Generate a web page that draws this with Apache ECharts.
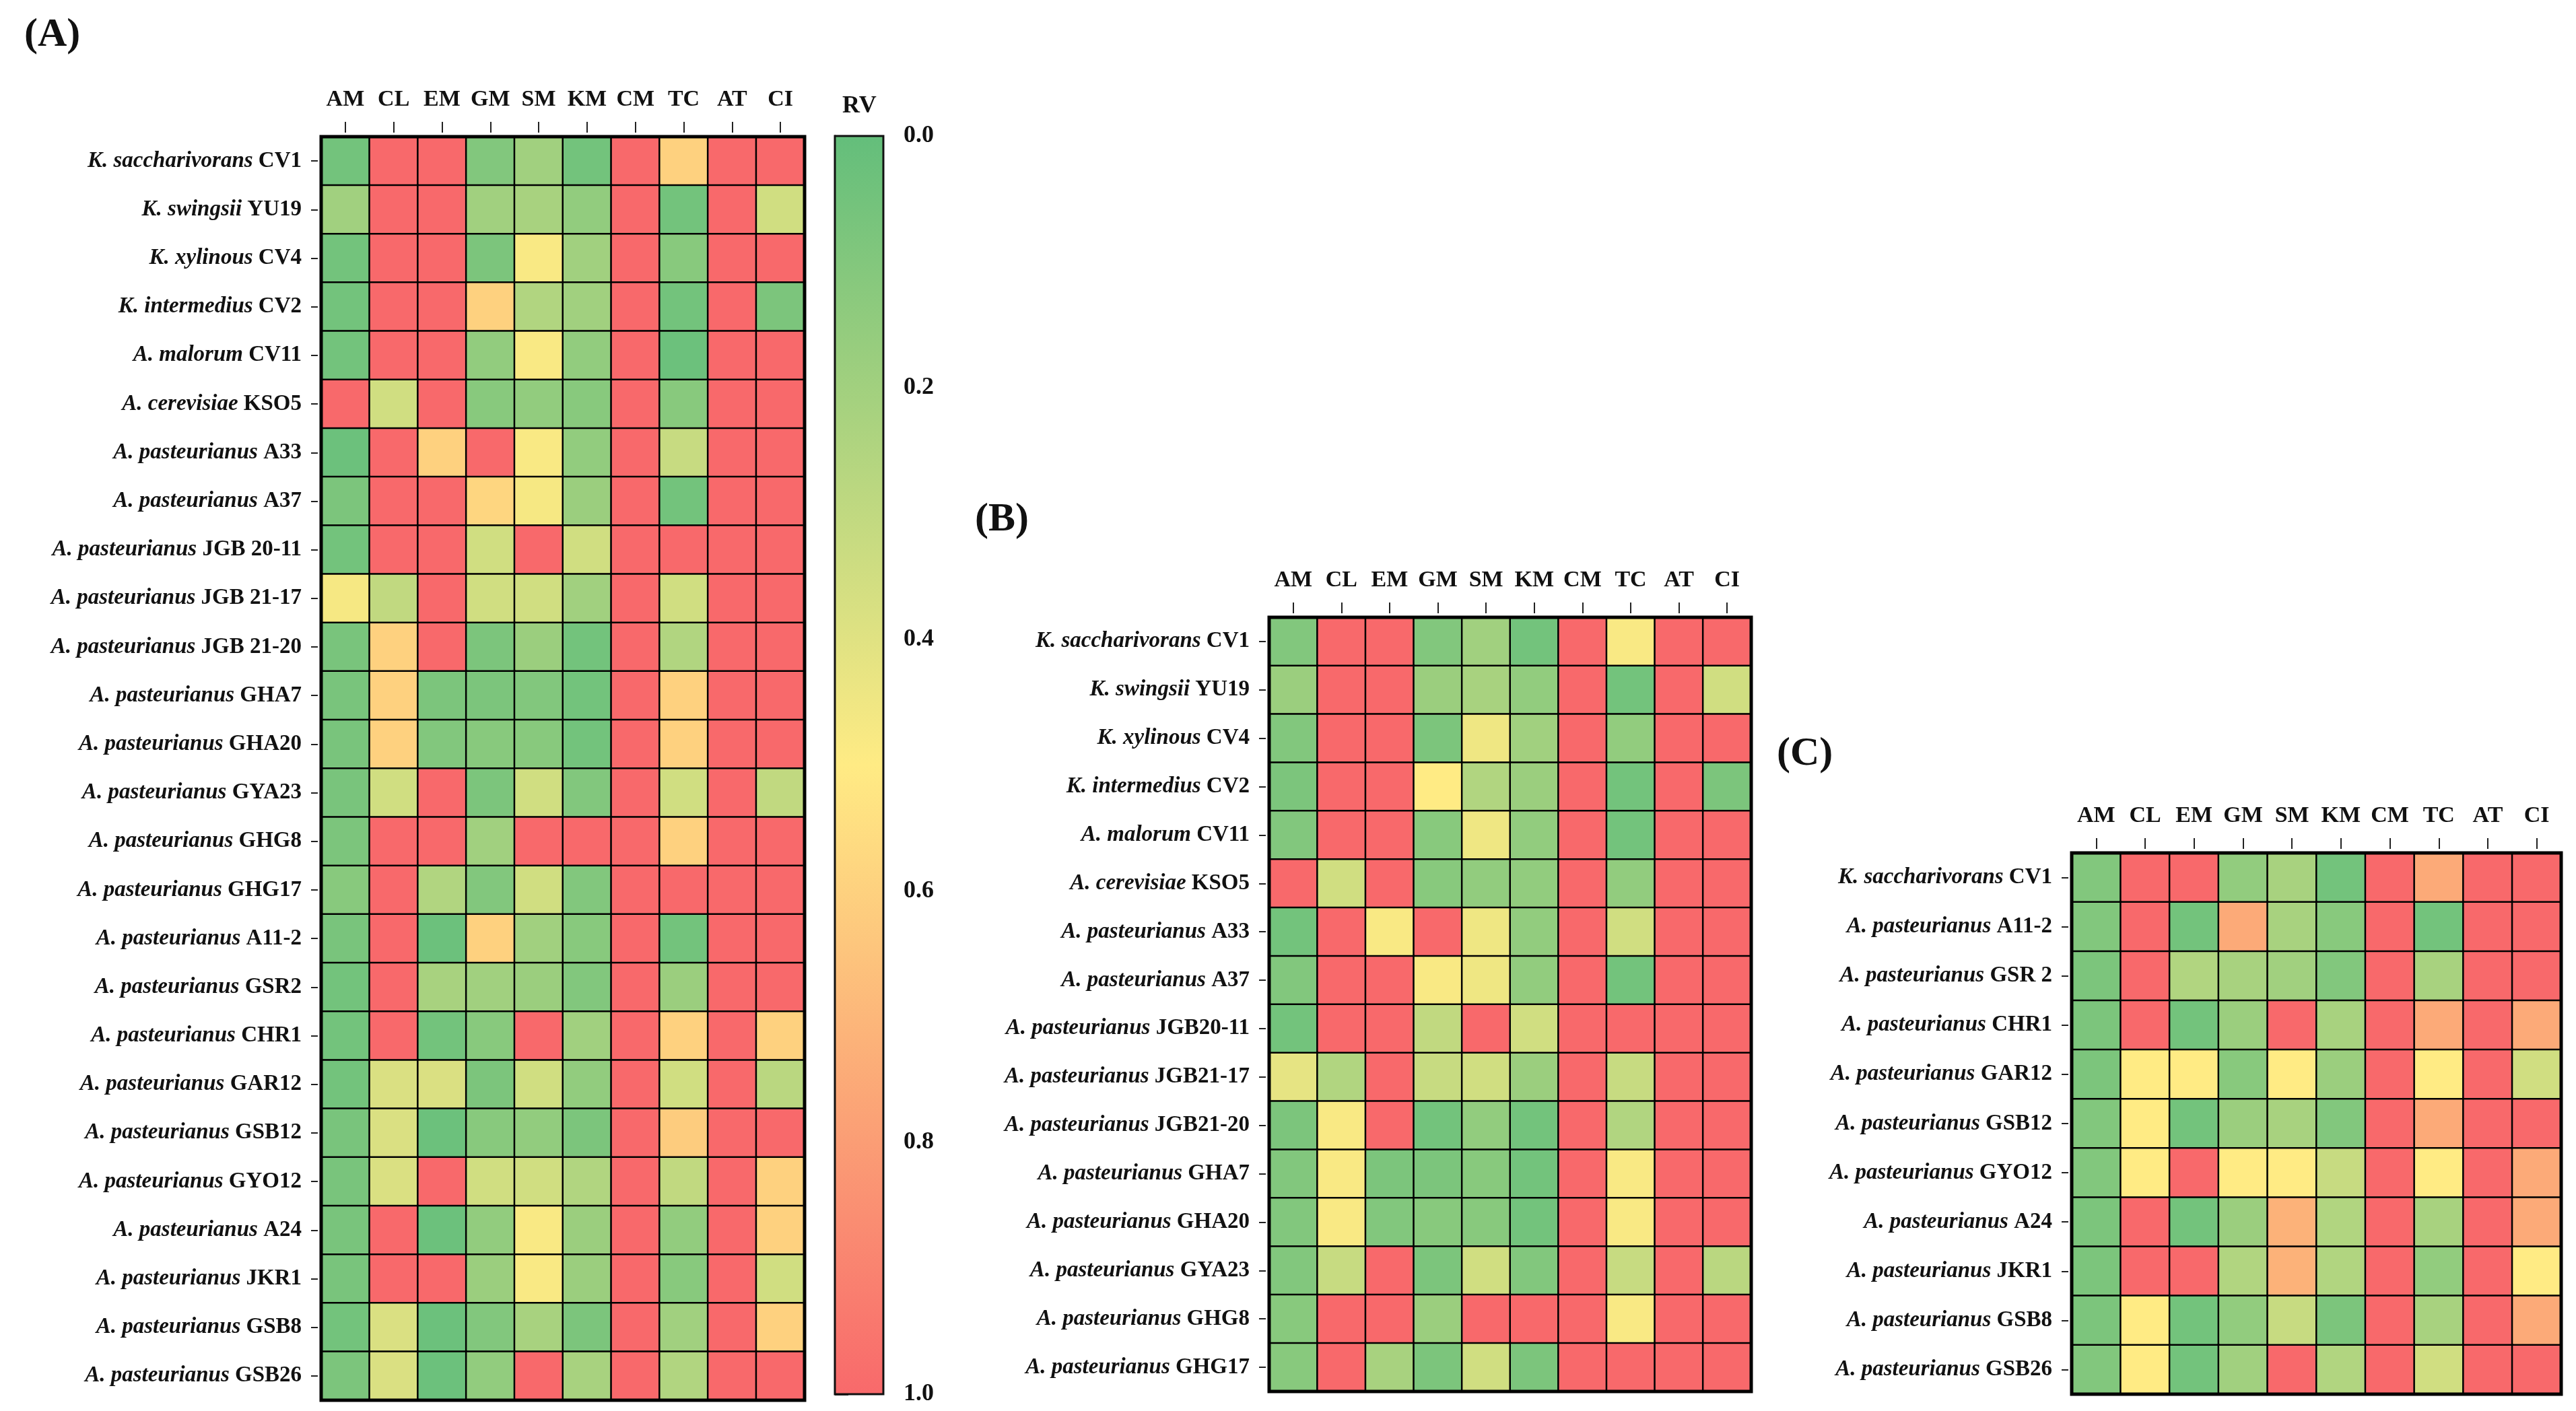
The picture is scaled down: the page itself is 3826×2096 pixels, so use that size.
<!DOCTYPE html>
<html>
<head>
<meta charset="utf-8">
<script src="https://cdn.jsdelivr.net/npm/echarts@6/dist/echarts.min.js"></script>
<style>
html,body{margin:0;padding:0;background:#fff;}
#chart{width:3826px;height:2096px;}
</style>
</head>
<body>
<div id="chart"></div>
<script>
// ---------- data ----------
const antibiotics = ['AM','CL','EM','GM','SM','KM','CM','TC','AT','CI'];

const strainsA = [
  'K. saccharivorans CV1','K. swingsii YU19','K. xylinous CV4','K. intermedius CV2',
  'A. malorum CV11','A. cerevisiae KSO5','A. pasteurianus A33','A. pasteurianus A37',
  'A. pasteurianus JGB 20-11','A. pasteurianus JGB 21-17','A. pasteurianus JGB 21-20',
  'A. pasteurianus GHA7','A. pasteurianus GHA20','A. pasteurianus GYA23',
  'A. pasteurianus GHG8','A. pasteurianus GHG17','A. pasteurianus A11-2',
  'A. pasteurianus GSR2','A. pasteurianus CHR1','A. pasteurianus GAR12',
  'A. pasteurianus GSB12','A. pasteurianus GYO12','A. pasteurianus A24',
  'A. pasteurianus JKR1','A. pasteurianus GSB8','A. pasteurianus GSB26'
];
// rows = strains, columns = antibiotics (AM..CI)
const rvA = [
  [0.05,1,1,0.10,0.20,0.05,1,0.60,1,1],
  [0.20,1,1,0.20,0.22,0.15,1,0.05,1,0.35],
  [0.05,1,1,0.08,0.48,0.20,1,0.12,1,1],
  [0.05,1,1,0.60,0.25,0.20,1,0.05,1,0.08],
  [0.05,1,1,0.15,0.48,0.15,1,0.03,1,1],
  [1,0.35,1,0.12,0.15,0.12,1,0.12,1,1],
  [0.03,1,0.60,1,0.48,0.15,1,0.32,1,1],
  [0.08,1,1,0.58,0.47,0.18,1,0.05,1,1],
  [0.05,1,1,0.35,1,0.35,1,1,1,1],
  [0.47,0.30,1,0.35,0.35,0.20,1,0.35,1,1],
  [0.07,0.60,1,0.08,0.18,0.05,1,0.25,1,1],
  [0.07,0.60,0.08,0.08,0.10,0.05,1,0.60,1,1],
  [0.07,0.60,0.10,0.12,0.12,0.05,1,0.60,1,1],
  [0.07,0.35,1,0.08,0.35,0.10,1,0.35,1,0.30],
  [0.08,1,1,0.20,1,1,1,0.60,1,1],
  [0.12,1,0.25,0.10,0.35,0.10,1,1,1,1],
  [0.07,1,0.03,0.60,0.20,0.12,1,0.05,1,1],
  [0.05,1,0.22,0.20,0.18,0.10,1,0.18,1,1],
  [0.05,1,0.05,0.12,1,0.20,1,0.60,1,0.60],
  [0.05,0.38,0.38,0.08,0.35,0.15,1,0.35,1,0.28],
  [0.07,0.38,0.03,0.12,0.15,0.08,1,0.62,1,1],
  [0.07,0.38,1,0.35,0.35,0.25,1,0.30,1,0.60],
  [0.07,1,0.03,0.15,0.48,0.18,1,0.15,1,0.60],
  [0.07,1,1,0.18,0.48,0.18,1,0.12,1,0.35],
  [0.05,0.38,0.03,0.10,0.22,0.08,1,0.20,1,0.60],
  [0.08,0.38,0.03,0.15,1,0.22,1,0.25,1,1]
];

const strainsB = [
  'K. saccharivorans CV1','K. swingsii YU19','K. xylinous CV4','K. intermedius CV2',
  'A. malorum CV11','A. cerevisiae KSO5','A. pasteurianus A33','A. pasteurianus A37',
  'A. pasteurianus JGB20-11','A. pasteurianus JGB21-17','A. pasteurianus JGB21-20',
  'A. pasteurianus GHA7','A. pasteurianus GHA20','A. pasteurianus GYA23',
  'A. pasteurianus GHG8','A. pasteurianus GHG17'
];
const rvB = [
  [0.10,1,1,0.10,0.20,0.05,1,0.48,1,1],
  [0.18,1,1,0.18,0.22,0.15,1,0.05,1,0.35],
  [0.10,1,1,0.08,0.45,0.20,1,0.15,1,1],
  [0.08,1,1,0.50,0.25,0.18,1,0.05,1,0.08],
  [0.10,1,1,0.12,0.45,0.15,1,0.05,1,1],
  [1,0.35,1,0.12,0.15,0.15,1,0.15,1,1],
  [0.05,1,0.48,1,0.45,0.15,1,0.35,1,1],
  [0.10,1,1,0.48,0.45,0.15,1,0.05,1,1],
  [0.05,1,1,0.30,1,0.35,1,1,1,1],
  [0.42,0.25,1,0.32,0.35,0.18,1,0.32,1,1],
  [0.08,0.48,1,0.05,0.15,0.05,1,0.25,1,1],
  [0.10,0.48,0.08,0.08,0.12,0.05,1,0.48,1,1],
  [0.10,0.48,0.10,0.12,0.12,0.05,1,0.48,1,1],
  [0.10,0.32,1,0.08,0.35,0.10,1,0.32,1,0.28],
  [0.12,1,1,0.18,1,1,1,0.48,1,1],
  [0.12,1,0.22,0.08,0.35,0.08,1,1,1,1]
];

const strainsC = [
  'K. saccharivorans CV1','A. pasteurianus A11-2','A. pasteurianus GSR 2',
  'A. pasteurianus CHR1','A. pasteurianus GAR12','A. pasteurianus GSB12',
  'A. pasteurianus GYO12','A. pasteurianus A24','A. pasteurianus JKR1',
  'A. pasteurianus GSB8','A. pasteurianus GSB26'
];
const rvC = [
  [0.10,1,1,0.15,0.22,0.05,1,0.75,1,1],
  [0.10,1,0.05,0.75,0.22,0.12,1,0.05,1,1],
  [0.08,1,0.25,0.22,0.20,0.10,1,0.22,1,1],
  [0.08,1,0.05,0.18,1,0.22,1,0.75,1,0.75],
  [0.08,0.50,0.50,0.12,0.50,0.18,1,0.50,1,0.35],
  [0.10,0.50,0.05,0.18,0.22,0.10,1,0.75,1,1],
  [0.10,0.50,1,0.50,0.50,0.32,1,0.50,1,0.75],
  [0.08,1,0.05,0.18,0.72,0.25,1,0.22,1,0.75],
  [0.08,1,1,0.25,0.72,0.25,1,0.15,1,0.50],
  [0.08,0.50,0.05,0.15,0.32,0.08,1,0.22,1,0.75],
  [0.10,0.50,0.05,0.20,1,0.25,1,0.35,1,1]
];

const rvTicks = [0, 0.2, 0.4, 0.6, 0.8, 1.0];
const panelLetters = ['(A)', '(B)', '(C)'];

// ---------- styling ----------
const FONT = '"Liberation Serif", "Times New Roman", serif';
const scaleColors = ['#63BE7B', '#FFEB84', '#F8696B'];

const panels = [
  { strains: strainsA, values: rvA, rect: { left: 477, top: 203, width: 718, height: 1877 }, title: { left: 36, top: 22 } },
  { strains: strainsB, values: rvB, rect: { left: 1885, top: 917, width: 716, height: 1150 }, title: { left: 1448, top: 742 } },
  { strains: strainsC, values: rvC, rect: { left: 3077, top: 1267, width: 727, height: 804 }, title: { left: 2639, top: 1090 } }
];

function labelFmt(v) {
  const parts = v.split(' ');
  const sp = parts.slice(0, 2).join(' ');
  const rest = parts.slice(2).join(' ');
  return '{i|' + sp + '\u00a0}{b|' + rest + '}';
}

const grids = [], xAxes = [], yAxes = [], series = [], titles = [];

panels.forEach((p, k) => {
  grids.push(Object.assign({ show: true, borderColor: '#000', borderWidth: 5, backgroundColor: 'transparent', z: 5, containLabel: false }, p.rect));
  xAxes.push({
    type: 'category', gridIndex: k, data: antibiotics, position: 'top', offset: 6,
    axisLine: { show: false },
    axisTick: { show: true, alignWithLabel: true, interval: 0, length: 16, lineStyle: { color: '#222', width: 2 } },
    axisLabel: { interval: 0, color: '#111', fontFamily: FONT, fontWeight: 'bold', fontSize: 34, margin: 32 },
    splitLine: { show: false }
  });
  yAxes.push({
    type: 'category', gridIndex: k, data: p.strains, inverse: true, offset: 5,
    axisLine: { show: false },
    axisTick: { show: true, alignWithLabel: true, interval: 0, length: 10, lineStyle: { color: '#222', width: 2 } },
    axisLabel: {
      interval: 0, margin: 24, formatter: labelFmt,
      rich: {
        i: { fontFamily: FONT, fontStyle: 'italic', fontWeight: 'bold', fontSize: 33, color: '#111' },
        b: { fontFamily: FONT, fontWeight: 'bold', fontSize: 33, color: '#111' }
      }
    },
    splitLine: { show: false }
  });
  const data = [];
  p.values.forEach((row, r) => row.forEach((v, c) => data.push([c, r, v])));
  series.push({
    type: 'heatmap', xAxisIndex: k, yAxisIndex: k, data: data,
    itemStyle: { borderColor: '#000', borderWidth: 2.5 },
    emphasis: { disabled: true }, progressive: 0
  });
  titles.push({
    text: panelLetters[k], left: p.title.left, top: p.title.top, padding: 0,
    textStyle: { fontFamily: FONT, fontWeight: 'bold', fontSize: 60, color: '#111' }
  });
});

// colour bar (panel A)
grids.push({
  left: 1240, top: 202, width: 72, height: 1869, show: true,
  borderColor: '#111', borderWidth: 3, z: 5,
  backgroundColor: {
    type: 'linear', x: 0, y: 0, x2: 0, y2: 1,
    colorStops: [
      { offset: 0, color: scaleColors[0] },
      { offset: 0.5, color: scaleColors[1] },
      { offset: 1, color: scaleColors[2] }
    ]
  }
});
xAxes.push({ type: 'value', gridIndex: 3, min: 0, max: 1, show: false });
yAxes.push({
  type: 'value', gridIndex: 3, min: 0, max: 1, interval: 0.2, inverse: true, position: 'right',
  axisLine: { show: true, lineStyle: { color: '#111', width: 3 } },
  axisTick: { show: true, length: 20, lineStyle: { color: '#333', width: 3 } },
  axisLabel: {
    margin: 30, color: '#111', fontFamily: FONT, fontWeight: 'bold', fontSize: 36,
    customValues: rvTicks,
    formatter: v => v.toFixed(1)
  },
  splitLine: { show: false }
});
titles.push({
  text: 'RV', left: 1251, top: 140, padding: 0,
  textStyle: { fontFamily: FONT, fontWeight: 'bold', fontSize: 36, color: '#111' }
});

const chart = echarts.init(document.getElementById('chart'), null, { renderer: 'canvas' });
chart.setOption({
  backgroundColor: '#fff',
  animation: false,
  title: titles,
  grid: grids,
  xAxis: xAxes,
  yAxis: yAxes,
  visualMap: {
    show: false, type: 'continuous', min: 0, max: 1, dimension: 2,
    seriesIndex: [0, 1, 2],
    inRange: { color: scaleColors }
  },
  series: series
});
</script>
</body>
</html>
